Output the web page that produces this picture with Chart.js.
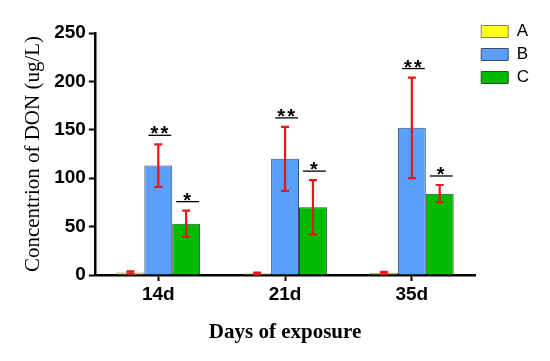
<!DOCTYPE html>
<html>
<head>
<meta charset="utf-8">
<script src="https://cdn.jsdelivr.net/npm/chart.js@4.4.0/dist/chart.umd.min.js"></script>
<style>
  html, body { margin: 0; padding: 0; background: #fff; }
  #wrap { width: 550px; height: 361px; }
</style>
</head>
<body>
<div id="wrap"><canvas id="donChart" width="550" height="361"></canvas></div>
<script>
// days of exposure
const days = ["14d", "21d", "35d"];
const groupNames = ["A", "B", "C"];

// mean DON concentration (ug/L)
const valuesA = [2.5, 1.5, 2];
const valuesB = [113, 120, 152];
const valuesC = [53, 70, 84];

// error bar half-length
const errA = [1.2, 1, 1.2];
const errB = [22, 33, 52];
const errC = [13.5, 28, 9];

// significance marks
const sigA = ["", "", ""];
const sigB = ["**", "**", "**"];
const sigC = ["*", "*", "*"];

const yTicks = [0, 50, 100, 150, 200, 250];

const errors = [errA, errB, errC];
const marks = [sigA, sigB, sigC];

// draws the red error bars and the star marks above them
const errorBarPlugin = {
  id: "errorBars",
  afterDatasetsDraw(chart) {
    const ctx = chart.ctx;
    const yScale = chart.scales.y;
    chart.data.datasets.forEach((ds, di) => {
      const meta = chart.getDatasetMeta(di);
      meta.data.forEach((bar, i) => {
        const v = ds.data[i];
        const e = errors[di][i];
        const yTop = yScale.getPixelForValue(v + e);
        const yBot = yScale.getPixelForValue(v - e);
        ctx.save();
        ctx.strokeStyle = "#e8161b";
        ctx.lineWidth = 2.2;
        ctx.beginPath();
        ctx.moveTo(bar.x, yTop);
        ctx.lineTo(bar.x, yBot);
        ctx.moveTo(bar.x - 4, yTop);
        ctx.lineTo(bar.x + 4, yTop);
        ctx.moveTo(bar.x - 4, yBot);
        ctx.lineTo(bar.x + 4, yBot);
        ctx.stroke();

        const m = marks[di][i];
        if (m) {
          const lineY = yTop - 9;
          ctx.strokeStyle = "#000";
          ctx.lineWidth = 1.3;
          ctx.beginPath();
          ctx.moveTo(bar.x - bar.width / 2 + 4, lineY);
          ctx.lineTo(bar.x + bar.width / 2 - 1, lineY);
          ctx.stroke();
          ctx.fillStyle = "#000";
          ctx.font = "bold 20px 'Liberation Sans', Arial, sans-serif";
          ctx.textAlign = "center";
          ctx.textBaseline = "alphabetic";
          const n = m.length;
          for (let k = 0; k < n; k++) {
            const sx = bar.x + 1 + (k - (n - 1) / 2) * 10;
            ctx.fillText("*", sx, lineY + 5);
          }
        }
        ctx.restore();
      });
    });
  }
};

const ctx = document.getElementById("donChart").getContext("2d");

new Chart(ctx, {
  type: "bar",
  data: {
    labels: days,
    datasets: [
      {
        label: groupNames[0],
        data: valuesA,
        backgroundColor: "#ffff1a",
        borderColor: "#8a8450",
        borderWidth: 1
      },
      {
        label: groupNames[1],
        data: valuesB,
        backgroundColor: "#5aa0fa",
        borderColor: "#3d4d66",
        borderWidth: 1
      },
      {
        label: groupNames[2],
        data: valuesC,
        backgroundColor: "#00bb00",
        borderColor: "#2d4d2d",
        borderWidth: 1
      }
    ]
  },
  options: {
    responsive: false,
    animation: false,
    layout: {
      padding: { left: 21, right: 11, top: 17, bottom: 16 }
    },
    categoryPercentage: 0.66,
    barPercentage: 1.0,
    plugins: {
      legend: {
        position: "right",
        align: "start",
        labels: {
          boxWidth: 27,
          boxHeight: 12,
          padding: 6,
          color: "#000",
          font: { family: "'Liberation Sans', Arial, sans-serif", size: 17 }
        }
      },
      // empty spacer above the plot only, so the legend can sit higher
      title: {
        display: true,
        text: " ",
        fullSize: false,
        padding: { top: 2, bottom: 2 },
        font: { size: 10, lineHeight: 1.2 }
      },
      tooltip: { enabled: false }
    },
    scales: {
      x: {
        grid: {
          display: true,
          offset: false,
          drawOnChartArea: false,
          drawTicks: true,
          tickLength: 6,
          tickWidth: 2,
          tickColor: "#000"
        },
        border: { display: true, color: "#000", width: 2.5 },
        ticks: {
          color: "#000",
          padding: 2,
          font: { family: "'Liberation Sans', Arial, sans-serif", size: 19, weight: "bold" }
        },
        title: {
          display: true,
          text: "Days of exposure",
          color: "#000",
          padding: { top: 12, bottom: 0 },
          font: { family: "'Liberation Serif', 'DejaVu Serif', serif", size: 21, weight: "bold" }
        }
      },
      y: {
        min: 0,
        max: 250,
        afterBuildTicks: (axis) => {
          axis.ticks = yTicks.map((v) => ({ value: v }));
        },
        grid: {
          display: true,
          drawOnChartArea: false,
          drawTicks: true,
          tickLength: 6,
          tickWidth: 2,
          tickColor: "#000"
        },
        border: { display: true, color: "#000", width: 2.5 },
        ticks: {
          color: "#000",
          padding: 3,
          font: { family: "'Liberation Sans', Arial, sans-serif", size: 19, weight: "bold" }
        },
        title: {
          display: true,
          text: "Concentrion of DON (ug/L)",
          color: "#000",
          padding: { top: 0, bottom: 5 },
          font: { family: "'Liberation Serif', 'DejaVu Serif', serif", size: 21 }
        }
      }
    }
  },
  plugins: [errorBarPlugin]
});
</script>
</body>
</html>
